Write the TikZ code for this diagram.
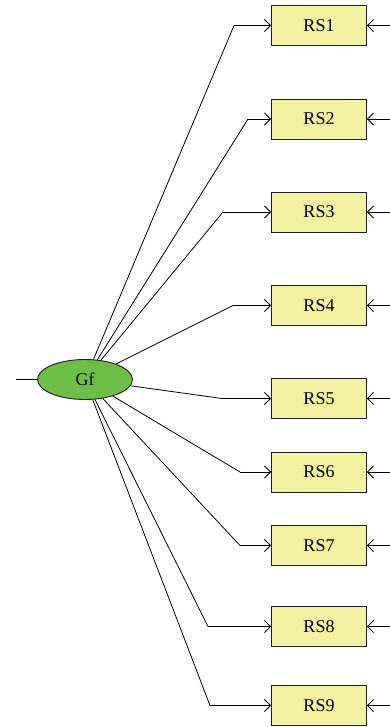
\documentclass[tikz,border=0pt]{standalone}
\usepackage{fontspec}
\setmainfont{Liberation Serif}
\usetikzlibrary{shapes.geometric,arrows.meta}
\definecolor{boxfill}{RGB}{243,242,160}
\definecolor{ellfill}{RGB}{108,190,68}
\definecolor{edgecol}{RGB}{30,30,30}
\tikzset{
  rsbox/.style={draw=edgecol,fill=boxfill,line width=0.9pt,minimum width=95pt,minimum height=40pt,inner sep=0pt,font=\fontsize{18}{21}\selectfont},
  latent/.style={ellipse,draw=edgecol,fill=ellfill,line width=0.9pt,minimum width=95pt,minimum height=40pt,inner sep=0pt,font=\fontsize{18}{21}\selectfont},
  conn/.style={line width=0.8pt,-{Straight Barb[length=6pt,width=12pt,line width=0.8pt]}},
  plain/.style={line width=0.8pt}
}
\begin{document}
\begin{tikzpicture}[x=1pt,y=-1pt]
\useasboundingbox (0,0) rectangle (390,727);
\node[latent] (gf) at (85,379.5) {Gf};
\coordinate (lin) at (16,379.5);
\draw[plain] (lin) -- (gf);
\foreach \i/\y/\k in {1/25.5/234,2/119/248,3/212/223,4/305.5/233,5/398.5/222,6/472/240,7/545.5/240,8/626.5/208,9/705.5/210}{
  \node[rsbox] (rs\i) at (319,\y) {RS\i};
  \coordinate (k\i) at (\k,\y);
  \coordinate (e\i) at (390,\y);
  \draw[plain] (gf) -- (k\i);
  \draw[conn] (k\i) -- (rs\i.west);
  \draw[conn] (e\i) -- (rs\i.east);
}
\end{tikzpicture}
\end{document}
